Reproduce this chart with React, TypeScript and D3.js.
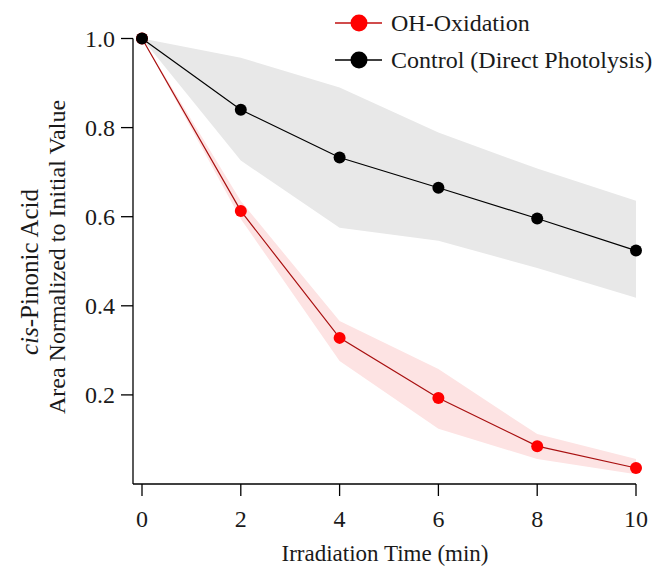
import React from "react";
import * as d3 from "d3";

// Irradiation time points (min)
const times = [0, 2, 4, 6, 8, 10];

// OH-oxidation: normalized area with uncertainty envelope
const ohValues = [1.0, 0.613, 0.328, 0.193, 0.085, 0.036];
const ohUpper = [1.0, 0.635, 0.366, 0.258, 0.112, 0.056];
const ohLower = [1.0, 0.595, 0.276, 0.124, 0.056, 0.022];

// Control (direct photolysis)
const ctrlValues = [1.0, 0.84, 0.733, 0.665, 0.596, 0.524];
const ctrlUpper = [1.0, 0.957, 0.89, 0.789, 0.708, 0.636];
const ctrlLower = [1.0, 0.726, 0.575, 0.546, 0.485, 0.418];

const xTicks = [0, 2, 4, 6, 8, 10];
const yTicks = [0.2, 0.4, 0.6, 0.8, 1.0];

const legendLabels = ["OH-Oxidation", "Control (Direct Photolysis)"];

const W = 654;
const H = 569;
const FONT = "'Liberation Serif', 'Times New Roman', serif";

export default function App() {
  const x = d3.scaleLinear().domain([0, 10]).range([142, 636]);
  const y = d3.scaleLinear().domain([0, 1]).range([484, 38.5]);

  const axisLeft = 133;
  const axisBottom = 484;

  const band = (up: number[], lo: number[]) =>
    d3
      .area<number>()
      .x((t) => x(t))
      .y0((_, i) => y(lo[i]))
      .y1((_, i) => y(up[i]))(times) || "";

  const line = (vals: number[]) =>
    d3
      .line<number>()
      .x((t) => x(t))
      .y((_, i) => y(vals[i]))(times) || "";

  const series = [
    { vals: ctrlValues, up: ctrlUpper, lo: ctrlLower, fill: "#e8e8e8", stroke: "#000", dot: "#000" },
    { vals: ohValues, up: ohUpper, lo: ohLower, fill: "#fde3e3", stroke: "#a81010", dot: "#ff0000" },
  ];

  return (
    <svg
      width={W}
      height={H}
      style={{ position: "absolute", left: 0, top: 0, background: "#fff" }}
      fontFamily={FONT}
    >
      {/* uncertainty envelopes */}
      {series.map((s, i) => (
        <path key={"b" + i} d={band(s.up, s.lo)} fill={s.fill} stroke="none" />
      ))}
      {/* data lines */}
      {series.map((s, i) => (
        <path key={"l" + i} d={line(s.vals)} fill="none" stroke={s.stroke} strokeWidth={1.2} />
      ))}
      {/* markers: control drawn last so its t=0 point sits on top */}
      {series
        .slice()
        .reverse()
        .map((s, i) => (
          <g key={"m" + i}>
            {times.map((t, j) => (
              <circle key={j} cx={x(t)} cy={y(s.vals[j])} r={6} fill={s.dot} />
            ))}
          </g>
        ))}

      {/* axes */}
      <line x1={axisLeft} x2={axisLeft} y1={y(1)} y2={axisBottom} stroke="#000" strokeWidth={1.3} />
      <line x1={axisLeft} x2={x(10)} y1={axisBottom} y2={axisBottom} stroke="#000" strokeWidth={1.3} />
      {yTicks.map((v) => (
        <g key={"yt" + v}>
          <line x1={axisLeft - 12} x2={axisLeft} y1={y(v)} y2={y(v)} stroke="#000" strokeWidth={1.3} />
          <text x={115} y={y(v)} dy="0.35em" textAnchor="end" fontSize={24} fill="#1a1a1a">
            {v.toFixed(1)}
          </text>
        </g>
      ))}
      {xTicks.map((v) => (
        <g key={"xt" + v}>
          <line x1={x(v)} x2={x(v)} y1={axisBottom} y2={axisBottom + 12} stroke="#000" strokeWidth={1.3} />
          <text x={x(v)} y={527} textAnchor="middle" fontSize={24} fill="#1a1a1a">
            {v}
          </text>
        </g>
      ))}

      {/* axis titles */}
      <text x={385} y={561} textAnchor="middle" fontSize={23} fill="#1a1a1a">
        Irradiation Time (min)
      </text>
      <text transform="translate(38,272) rotate(-90)" textAnchor="middle" fontSize={25} fill="#1a1a1a">
        <tspan fontStyle="italic">cis</tspan>-Pinonic Acid
      </text>
      <text transform="translate(65,257) rotate(-90)" textAnchor="middle" fontSize={24} fill="#1a1a1a">
        Area Normalized to Initial Value
      </text>

      {/* legend */}
      {legendLabels.map((label, i) => {
        const ly = i === 0 ? 23 : 60;
        const col = i === 0 ? "#ff0000" : "#000";
        const lc = i === 0 ? "#c01010" : "#000";
        return (
          <g key={label}>
            <line x1={335} x2={382} y1={ly} y2={ly} stroke={lc} strokeWidth={1.5} />
            <circle cx={359} cy={ly} r={8.5} fill={col} />
            <text x={391} y={ly} dy="0.35em" fontSize={24} fill="#1a1a1a">
              {label}
            </text>
          </g>
        );
      })}
    </svg>
  );
}
